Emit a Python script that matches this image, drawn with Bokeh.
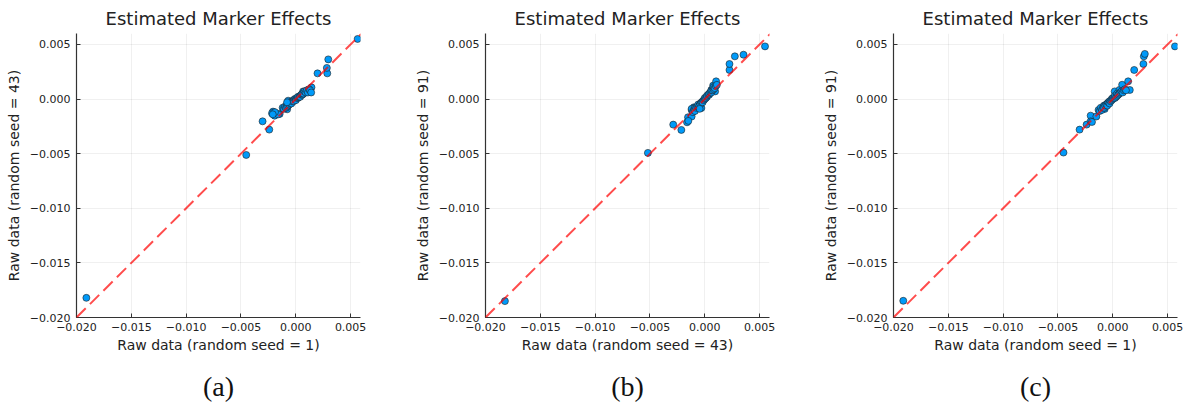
from bokeh.plotting import figure
from bokeh.models import Range1d, FixedTicker, Slope, Title
from bokeh.layouts import row
from bokeh.embed import file_html
from bokeh.resources import INLINE

title_text = "Estimated Marker Effects"
tick_values = [-0.020, -0.015, -0.010, -0.005, 0.000, 0.005]
tick_labels = ["−0.020", "−0.015", "−0.010", "−0.005", "0.000", "0.005"]
x_labels = ["Raw data (random seed = 1)", "Raw data (random seed = 43)", "Raw data (random seed = 1)"]
y_labels = ["Raw data (random seed = 43)", "Raw data (random seed = 91)", "Raw data (random seed = 91)"]
captions = ["(a)", "(b)", "(c)"]

# panel (a)
a_x = [-0.0191, -0.00452, -0.00242, -0.00303, -0.00208, -0.00217, -0.00193, -0.00147, -0.00079, -0.0007,
       0.00067, 0.00143, 0.00198, 0.00287, 0.00283, 0.00296, 0.00564,
       -0.0012, -0.0011, -0.0010, -0.0009, -0.0008, -0.0008, -0.0007, -0.0006, -0.0006, -0.0005, -0.0004,
       -0.0004, -0.0003, -0.0002, -0.0002, -0.0001, 0.0000, 0.0000, 0.0001, 0.0002, 0.0002, 0.0003,
       0.0004, 0.0004, 0.0005, 0.0006, 0.0006, 0.0007, 0.0008, 0.0009, 0.0010, 0.0011, 0.0012, 0.0013,
       0.0014, -0.0016, -0.0019, -0.0021, -0.0008]
a_y = [-0.0182, -0.00512, -0.0028, -0.00204, -0.00115, -0.0013, -0.00152, -0.00136, -0.00094, -0.00015,
       0.0007, 0.00107, 0.00235, 0.00235, 0.00285, 0.00363, 0.0055,
       -0.0008, -0.0009, -0.0007, -0.0008, -0.0005, -0.0007, -0.0006, -0.0004, -0.0005, -0.0004, -0.0002,
       -0.0004, -0.0002, -0.0001, -0.0002, 0.0000, 0.0000, -0.0001, 0.0001, 0.0001, 0.0002, 0.0002,
       0.0003, 0.0002, 0.0004, 0.0004, 0.0005, 0.0005, 0.0007, 0.0006, 0.0008, 0.0006, 0.0009, 0.0008,
       0.0006, -0.0014, -0.0012, -0.0014, -0.0003]

# panel (b)
b_x = [-0.01823, -0.00519, -0.00214, -0.00288, -0.00162, -0.00153, -0.0012, -0.0012, -0.0010, -0.00031,
       0.0006, 0.00094, 0.00076, 0.00103, 0.00225, 0.00225, 0.00274, 0.00353, 0.00549,
       -0.0012, -0.0011, -0.0010, -0.0009, -0.0009, -0.0008, -0.0007, -0.0006, -0.0006, -0.0005, -0.0004,
       -0.0004, -0.0003, -0.0002, -0.0002, -0.0001, 0.0000, 0.0000, 0.0001, 0.0002, 0.0002, 0.0003,
       0.0004, 0.0004, 0.0005, 0.0006, 0.0006, 0.0007, 0.0008, 0.0008, 0.0009, 0.0010, 0.0011,
       -0.00047, -0.0015]
b_y = [-0.0185, -0.00493, -0.00283, -0.00234, -0.00213, -0.00167, -0.0016, -0.0010, -0.00076, -0.00082,
       0.00083, 0.0007, 0.00123, 0.00162, 0.00266, 0.00321, 0.00391, 0.00406, 0.00482,
       -0.0009, -0.0012, -0.0010, -0.0008, -0.0011, -0.0008, -0.0007, -0.0007, -0.0005, -0.0006, -0.0004,
       -0.0005, -0.0003, -0.0002, -0.0003, -0.0001, 0.0000, 0.0001, 0.0001, 0.0002, 0.0003, 0.0004,
       0.0004, 0.0005, 0.0006, 0.0006, 0.0008, 0.0008, 0.0009, 0.0011, 0.0010, 0.0012, 0.0013,
       -0.0009, -0.0020]

# panel (c)
c_x = [-0.01911, -0.0045, -0.00303, -0.00239, -0.00202, -0.00202, -0.0019, -0.0015, -0.00074,
       0.00017, 0.0006, 0.00085, 0.00155, 0.0014, 0.00195, 0.00279, 0.00283, 0.00292, 0.00567,
       -0.0013, -0.0012, -0.0011, -0.0010, -0.0009, -0.0008, -0.0008, -0.0007, -0.0006, -0.0005, -0.0005,
       -0.0004, -0.0003, -0.0003, -0.0002, -0.0001, -0.0001, 0.0000, 0.0000, 0.0001, 0.0002, 0.0002,
       0.0003, 0.0004, 0.0004, 0.0005, 0.0006, 0.0007, 0.0008, 0.0009, 0.0010, 0.0011, 0.0012]
c_y = [-0.01847, -0.0049, -0.0028, -0.00234, -0.00152, -0.00204, -0.0021, -0.0016, -0.00091,
       0.0007, 0.00083, 0.00131, 0.00083, 0.00162, 0.00266, 0.00321, 0.00391, 0.00413, 0.00482,
       -0.0010, -0.0011, -0.0008, -0.0010, -0.0008, -0.0006, -0.0008, -0.0006, -0.0005, -0.0004, -0.0006,
       -0.0003, -0.0002, -0.0004, -0.0002, 0.0000, -0.0001, 0.0000, 0.0001, 0.0001, 0.0001, 0.0003,
       0.0002, 0.0003, 0.0005, 0.0004, 0.0005, 0.0006, 0.0007, 0.0006, 0.0008, 0.0009, 0.0008]

xs = [a_x, b_x, c_x]
ys = [a_y, b_y, c_y]
left_borders = [76, 75, 75]
right_borders = [50, 49, 8]

FONT = "DejaVu Sans"


def make_panel(i):
    p = figure(frame_width=284, frame_height=284, output_backend="svg", toolbar_location=None,
               x_range=Range1d(-0.020, 0.0059), y_range=Range1d(-0.020, 0.006),
               min_border_left=left_borders[i], min_border_right=right_borders[i], min_border_top=33,
               min_border_bottom=0)
    p.outline_line_color = None
    p.background_fill_color = "white"
    p.border_fill_color = "white"

    p.title.text = title_text
    p.title.align = "center"
    p.title.text_font = FONT
    p.title.text_font_size = "18px"
    p.title.text_font_style = "normal"
    p.title.text_color = "#222222"
    p.title.standoff = 10

    for ax in (p.xaxis[0], p.yaxis[0]):
        ax.ticker = FixedTicker(ticks=tick_values)
        ax.major_label_overrides = dict(zip(tick_values, tick_labels))
        ax.major_label_text_font = FONT
        ax.major_label_text_font_size = "11px"
        ax.major_label_text_color = "#222222"
        ax.axis_label_text_font = FONT
        ax.axis_label_text_font_size = "14px"
        ax.axis_label_text_font_style = "normal"
        ax.axis_label_text_color = "#222222"
        ax.axis_line_color = "#333333"
        ax.axis_line_width = 1.2
        ax.major_tick_in = 4
        ax.major_tick_out = 0
        ax.major_tick_line_color = "#333333"
        ax.minor_tick_line_color = None
    p.xaxis.major_label_standoff = 5
    p.xaxis.axis_label_standoff = 3
    p.yaxis.major_label_standoff = 6
    p.yaxis.axis_label_standoff = 5
    p.xaxis.axis_label = x_labels[i]
    p.yaxis.axis_label = y_labels[i]

    p.grid.grid_line_color = "#000000"
    p.grid.grid_line_alpha = 0.08
    p.grid.grid_line_width = 0.8

    p.scatter(xs[i], ys[i], size=7, fill_color="#009AF9", line_color="#1f1f1f", line_width=0.6)

    p.add_layout(Slope(gradient=1, y_intercept=0, line_color="red", line_alpha=0.7,
                       line_width=2, line_dash="13 6"))

    cap = Title(text=captions[i], align="center", text_font="Liberation Serif", text_font_size="28px",
                text_font_style="normal", text_color="#111111", offset=-18, standoff=26)
    p.add_layout(cap, "below")
    return p


panels = [make_panel(i) for i in range(3)]
layout = row(*panels)
open("out.html", "w").write(file_html(layout, INLINE))
